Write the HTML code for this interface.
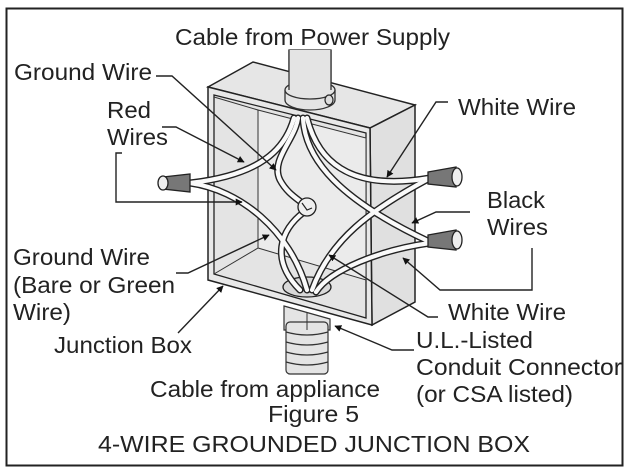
<!DOCTYPE html>
<html><head><meta charset="utf-8"><style>
html,body{margin:0;padding:0;background:#fff}
svg{display:block}
text{font-family:"Liberation Sans",Arial,sans-serif;font-size:23px;fill:#222}
</style></head><body>
<svg width="627" height="472" viewBox="0 0 627 472" xmlns="http://www.w3.org/2000/svg">
<defs>
<marker id="a" viewBox="0 0 10 10" refX="9" refY="5" markerWidth="7" markerHeight="7" orient="auto-start-reverse" markerUnits="userSpaceOnUse"><path d="M0,0 L10,5 L0,10 z" fill="#111"/></marker>
</defs>
<rect x="6.5" y="8.5" width="616" height="457" fill="#fff" stroke="#222" stroke-width="2"/>

<rect x="289" y="50" width="42" height="45" fill="#e4e4e4" stroke="#333" stroke-width="1.3"/>
<polygon points="208,87 253,62 415,105 370,128" fill="#e6e6e6" stroke="#222" stroke-width="1.5"/>
<polygon points="370,128 415,105 415,302 372,325" fill="#e0e0e0" stroke="#222" stroke-width="1.5"/>
<polygon points="208,87 370,128 372,325 208,280" fill="#e8e8e8" stroke="#222" stroke-width="1.5"/>
<polygon points="214,95 366,133 366,318 214,274" fill="#e4e4e4" stroke="#222" stroke-width="1.3"/>
<polygon points="258,110 366,138 366,280 258,248" fill="#ebebeb" stroke="#333" stroke-width="1"/>
<line x1="214" y1="274" x2="258" y2="248" stroke="#333" stroke-width="1"/>
<line x1="258" y1="110" x2="214" y2="97" stroke="#333" stroke-width="1"/>
<path d="M285,90 L285,100 A25,10 0 0 0 335,100 L335,90" fill="#e4e4e4" stroke="#333" stroke-width="1.3"/>
<ellipse cx="310" cy="90" rx="25" ry="9" fill="#e4e4e4" stroke="#333" stroke-width="1.3"/>
<rect x="289" y="50" width="42" height="40" fill="#e4e4e4" stroke="none"/>
<line x1="289" y1="50" x2="289" y2="90" stroke="#333" stroke-width="1.3"/>
<line x1="331" y1="50" x2="331" y2="90" stroke="#333" stroke-width="1.3"/>
<ellipse cx="329" cy="100" rx="4" ry="5" fill="#ddd" stroke="#222" stroke-width="1.2"/>
<ellipse cx="307" cy="287" rx="24" ry="10" fill="#d8d8d8" stroke="#222" stroke-width="1.3"/>
<path d="M284,306 L330,319 L330,330 L284,330 z" fill="#e4e4e4" stroke="#333" stroke-width="1.2"/>
<rect x="286" y="322" width="42" height="52" rx="4" fill="#e4e4e4" stroke="#333" stroke-width="1.2"/>
<g fill="none" stroke="#333" stroke-width="1.2">
<path d="M286,332 Q307,338 328,332"/><path d="M286,342 Q307,348 328,342"/><path d="M286,352 Q307,358 328,352"/><path d="M286,362 Q307,368 328,362"/>
</g>
<line x1="307" y1="312" x2="307" y2="330" stroke="#333" stroke-width="1"/>

<g fill="none" stroke-linecap="round">
<g stroke="#222" stroke-width="7">
<path d="M294,118 C285,150 260,175 190,183"/>
<path d="M190,183 C240,190 290,230 307,290"/>
<path d="M298,118 C295,140 270,160 280,180 C288,195 300,200 307,207"/>
<path d="M304,212 C280,230 270,260 300,290"/>
<path d="M303,118 C305,160 340,200 430,242"/>
<path d="M307,118 C320,170 360,190 430,178"/>
<path d="M312,290 C330,240 370,210 430,178"/>
<path d="M316,292 C330,270 380,250 430,243"/>
</g>
<g stroke="#fafafa" stroke-width="4.2">
<path d="M294,118 C285,150 260,175 190,183"/>
<path d="M190,183 C240,190 290,230 307,290"/>
<path d="M298,118 C295,140 270,160 280,180 C288,195 300,200 307,207"/>
<path d="M304,212 C280,230 270,260 300,290"/>
<path d="M303,118 C305,160 340,200 430,242"/>
<path d="M307,118 C320,170 360,190 430,178"/>
<path d="M312,290 C330,240 370,210 430,178"/>
<path d="M316,292 C330,270 380,250 430,243"/>
</g>
</g>
<circle cx="307" cy="207" r="9" fill="#eee" stroke="#222" stroke-width="1.3"/>
<path d="M302,203 L307,210 L312,208" fill="none" stroke="#222" stroke-width="1.2"/>
<g stroke="#222" stroke-width="1.3">
<path d="M163,177 L190,174 L190,192 L163,189 z" fill="#777"/>
<ellipse cx="163" cy="183" rx="5" ry="7" fill="#eee"/>
<path d="M428,172 L456,167 L456,187 L428,184 z" fill="#777"/>
<ellipse cx="457" cy="177" rx="5" ry="9" fill="#eee"/>
<path d="M428,235 L456,230 L456,250 L428,247 z" fill="#777"/>
<ellipse cx="457" cy="240" rx="5" ry="9" fill="#eee"/>
</g>

<g fill="none" stroke="#222" stroke-width="1.4" marker-end="url(#a)">
<path d="M156,76 L172,76 L276,170"/>
<path d="M162,127 L176,127 L244,162"/>
<path d="M122,153 L116,153 L116,202 L242,202"/>
<path d="M176,273 L188,273 L269,235"/>
<path d="M178,333 L223,286"/>
<path d="M414,350 L392,350 L335,326"/>
<path d="M438,317 L428,317 L329,255"/>
<path d="M532,248 L532,290 L440,290 L403,258"/>
<path d="M470,212 L436,212 L412,223"/>
<path d="M448,102 L436,102 L387,177"/>
</g>

<g>
<text x="175" y="45" textLength="275" lengthAdjust="spacingAndGlyphs">Cable from Power Supply</text>
<text x="14" y="80" textLength="138" lengthAdjust="spacingAndGlyphs">Ground Wire</text>
<text x="107" y="118" textLength="44" lengthAdjust="spacingAndGlyphs">Red</text>
<text x="107" y="145" textLength="61" lengthAdjust="spacingAndGlyphs">Wires</text>
<text x="458" y="115" textLength="118" lengthAdjust="spacingAndGlyphs">White Wire</text>
<text x="487" y="208" textLength="58" lengthAdjust="spacingAndGlyphs">Black</text>
<text x="487" y="235" textLength="61" lengthAdjust="spacingAndGlyphs">Wires</text>
<text x="13" y="265" textLength="137" lengthAdjust="spacingAndGlyphs">Ground Wire</text>
<text x="13" y="293" textLength="162" lengthAdjust="spacingAndGlyphs">(Bare or Green</text>
<text x="13" y="320" textLength="58" lengthAdjust="spacingAndGlyphs">Wire)</text>
<text x="448" y="320" textLength="118" lengthAdjust="spacingAndGlyphs">White Wire</text>
<text x="54" y="353" textLength="138" lengthAdjust="spacingAndGlyphs">Junction Box</text>
<text x="416" y="348" textLength="117" lengthAdjust="spacingAndGlyphs">U.L.-Listed</text>
<text x="416" y="375" textLength="206" lengthAdjust="spacingAndGlyphs">Conduit Connector</text>
<text x="416" y="402" textLength="157" lengthAdjust="spacingAndGlyphs">(or CSA listed)</text>
<text x="150" y="397" textLength="230" lengthAdjust="spacingAndGlyphs">Cable from appliance</text>
<text x="268" y="422" textLength="91" lengthAdjust="spacingAndGlyphs">Figure 5</text>
<text x="98" y="452" textLength="432" lengthAdjust="spacingAndGlyphs">4-WIRE GROUNDED JUNCTION BOX</text>
</g>
</svg>
</body></html>
